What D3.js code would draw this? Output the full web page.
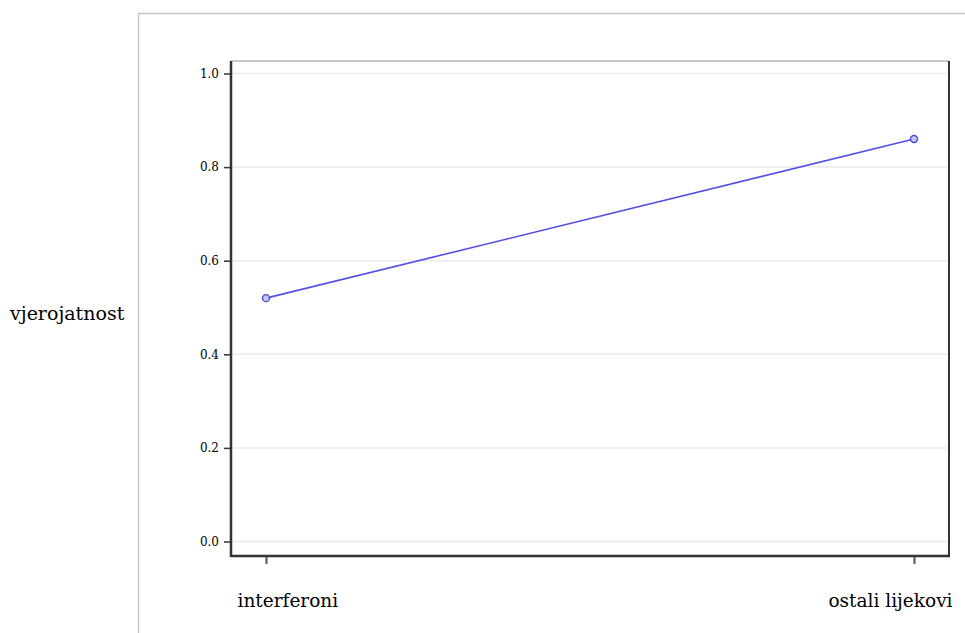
<!DOCTYPE html>
<html><head><meta charset="utf-8">
<script src="https://cdn.jsdelivr.net/npm/d3@7"></script>
<style>body{margin:0;background:#fff}svg{display:block}
.serif{font-family:"DejaVu Serif",serif;}
</style>
</head><body>
<svg id="c" width="965" height="633"></svg>
<script>
const categories = ["interferoni", "ostali lijekovi"];
const values = [0.52, 0.86];
const yTicks = [0.0, 0.2, 0.4, 0.6, 0.8, 1.0];
const yLabel = "vjerojatnost";

const svg = d3.select("#c");
const L = 231, R = 949, T = 61, B = 556;
const x = d3.scalePoint().domain(categories).range([266, 914]);
const y = d3.scaleLinear().domain([0, 1]).range([541.5, 73.5]);

// outer frame
svg.append("path").attr("d", `M138.5,633 V13.5 H965`).attr("fill","none").attr("stroke","#c8c8c8").attr("stroke-width",1.5);

// gridlines
svg.append("g").selectAll("line").data(yTicks).join("line")
  .attr("x1", L).attr("x2", R).attr("y1", d=>y(d)).attr("y2", d=>y(d))
  .attr("stroke","#ebebeb").attr("stroke-width",1.5);

// plot border
svg.append("line").attr("x1",L).attr("x2",R).attr("y1",T).attr("y2",T).attr("stroke","#b4b4b4").attr("stroke-width",1.5);
svg.append("line").attr("x1",R).attr("x2",R).attr("y1",T).attr("y2",B).attr("stroke","#333").attr("stroke-width",2);

// y axis
const yAxis = d3.axisLeft(y).tickValues(yTicks).tickFormat(d3.format(".1f")).tickSize(7).tickPadding(5);
const gy = svg.append("g").attr("transform",`translate(${L},0)`).call(yAxis);
gy.attr("font-family", null);
gy.select(".domain").remove();
gy.selectAll(".tick line").attr("stroke","#333").attr("stroke-width",1.5);
gy.selectAll(".tick text").attr("class","serif").style("font-size","12px").attr("fill","#000");
svg.append("line").attr("x1",L).attr("x2",L).attr("y1",T).attr("y2",B+1).attr("stroke","#333").attr("stroke-width",2.5);

// x axis
const xAxis = d3.axisBottom(x).tickSize(8).tickPadding(30);
const gx = svg.append("g").attr("transform",`translate(0,${B})`).call(xAxis);
gx.attr("font-family", null);
gx.select(".domain").remove();
gx.selectAll(".tick line").attr("stroke","#555").attr("stroke-width",2);
gx.selectAll(".tick text").attr("class","serif").style("font-size","18.5px").attr("fill","#000")
  .attr("dy", null).attr("y", 51)
  .attr("text-anchor", (d,i)=> i===0 ? "start" : "end")
  .attr("x", (d,i)=> i===0 ? -29 : 38);
svg.append("line").attr("x1",L).attr("x2",R+1).attr("y1",B).attr("y2",B).attr("stroke","#333").attr("stroke-width",2.5);

// y label
svg.append("text").attr("class","serif").attr("x",10).attr("y",320).attr("text-anchor","start")
  .style("font-size","19px").text(yLabel);

// line + markers
const data = categories.map((c,i)=>({c, v: values[i]}));
svg.append("path").datum(data)
  .attr("d", d3.line().x(d=>x(d.c)).y(d=>y(d.v)))
  .attr("fill","none").attr("stroke","#5050e6").attr("stroke-width",1.6);
svg.append("g").selectAll("circle").data(data).join("circle")
  .attr("cx", d=>x(d.c)).attr("cy", d=>y(d.v)).attr("r",3.5)
  .attr("fill","#c8c8f8").attr("stroke","#4848e0").attr("stroke-width",1.4);
</script>
</body></html>
